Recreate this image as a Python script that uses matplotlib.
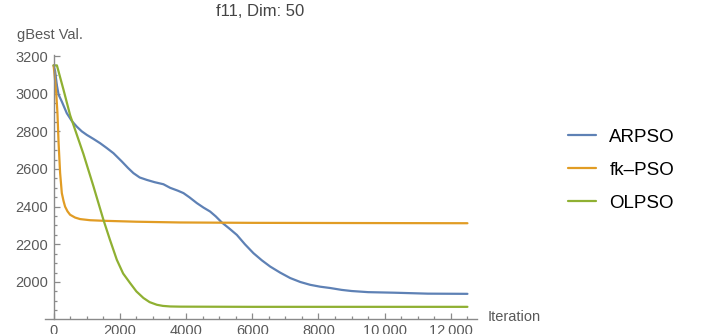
import matplotlib
matplotlib.use("Agg")
import matplotlib.pyplot as plt
from matplotlib.ticker import MultipleLocator, FixedLocator, FixedFormatter

# ---- data ----
arpso_x = [0, 45, 97, 150, 248, 399, 550, 700, 850, 1003, 1200, 1405, 1600, 1807, 2060, 2250,
           2411, 2600, 2816, 3050, 3317, 3520, 3750, 3922, 4100, 4326, 4528, 4728, 4900, 5081,
           5300, 5535, 5780, 6036, 6290, 6541, 6840, 7145, 7450, 7749, 8050, 8353, 8700,
           9000, 9500, 10300, 11300, 12500]
arpso_y = [3150, 3120, 3046, 2995, 2958, 2896, 2855, 2825, 2800, 2781, 2760, 2737, 2712, 2684, 2640, 2605,
           2578, 2555, 2542, 2530, 2519, 2500, 2485, 2472, 2450, 2419, 2395, 2374, 2348, 2316,
           2285, 2250, 2200, 2153, 2115, 2082, 2050, 2021, 2000, 1985, 1975, 1968, 1958,
           1952, 1946, 1943, 1938, 1937]

fk_x = [0, 40, 80, 115, 150, 196, 248, 300, 347, 420, 498, 650, 800, 1100, 1505, 2500,
        3822, 6000, 9000, 12500]
fk_y = [3150, 3080, 3000, 2900, 2740, 2580, 2472, 2430, 2400, 2375, 2357, 2342, 2334, 2328, 2325, 2320,
        2316, 2314, 2313, 2312]

ol_x = [0, 100, 300, 500, 900, 1200, 1505, 1700, 1909, 2100, 2311, 2500, 2713, 2900, 3118,
        3300, 3520, 3822, 6000, 9000, 12500]
ol_y = [3150, 3150, 3020, 2885, 2680, 2510, 2330, 2225, 2118, 2045, 1994, 1950, 1915, 1893, 1879,
        1873, 1870, 1869, 1868, 1868, 1868]

series_names = ["ARPSO", "fk\u2013PSO", "OLPSO"]
series_colors = ["#5E81B5", "#E19C24", "#8FB032"]

x_ticks = [0, 2000, 4000, 6000, 8000, 10000, 12000]
x_tick_labels = ["0", "2000", "4000", "6000", "8000", "10\u2009000", "12\u2009000"]
y_ticks = [2000, 2200, 2400, 2600, 2800, 3000, 3200]
y_tick_labels = ["2000", "2200", "2400", "2600", "2800", "3000", "3200"]

title = "f11, Dim: 50"
y_label = "gBest Val."
x_label = "Iteration"

# ---- figure ----
plt.rcParams['font.family'] = ['Liberation Sans', 'DejaVu Sans']
W, H = 702, 334
fig = plt.figure(figsize=(W / 100, H / 100), dpi=100)
ax = fig.add_axes([45 / W, 1 - 318.7 / H, (476.7 - 45) / W, (318.7 - 55.06) / H])
ax.patch.set_alpha(0)

lines = []
for xs, ys, name, col in zip([arpso_x, fk_x, ol_x], [arpso_y, fk_y, ol_y], series_names, series_colors):
    ln, = ax.plot(xs, ys, color=col, lw=1.6, label=name, solid_joinstyle='round', solid_capstyle='round')
    lines.append(ln)

ax.set_xlim(-260, 12780)
ax.set_ylim(1805, 3205)

axis_col = "#8a8a8a"
label_col = "#595959"
for s in ["top", "right"]:
    ax.spines[s].set_visible(False)
ax.spines["left"].set_position(("data", 0))
ax.spines["left"].set_color(axis_col)
ax.spines["bottom"].set_color(axis_col)
ax.spines["left"].set_linewidth(1.0)
ax.spines["bottom"].set_linewidth(1.0)

ax.xaxis.set_major_locator(FixedLocator(x_ticks))
ax.xaxis.set_major_formatter(FixedFormatter(x_tick_labels))
ax.yaxis.set_major_locator(FixedLocator(y_ticks))
ax.yaxis.set_major_formatter(FixedFormatter(y_tick_labels))
ax.xaxis.set_minor_locator(MultipleLocator(500))
ax.yaxis.set_minor_locator(MultipleLocator(50))

ax.tick_params(which='both', direction='in', color=axis_col, width=0.9)
ax.tick_params(which='major', length=4.5, labelsize=10.5, labelcolor=label_col, pad=4)
ax.tick_params(which='minor', length=2.5)

fig.text(260 / W, 1 - 12 / H, title, ha='center', va='center', fontsize=12, color="#444444")
fig.text(17 / W, 1 - 35 / H, y_label, ha='left', va='center', fontsize=10.5, color=label_col)
fig.text(488 / W, 1 - 317 / H, x_label, ha='left', va='center', fontsize=10.5, color=label_col)

ax.legend(handles=lines, loc='center left', bbox_to_anchor=(568 / W, 1 - 170 / H),
          bbox_transform=fig.transFigure, frameon=False, borderpad=0, borderaxespad=0,
          handlelength=1.5, handletextpad=0.7, labelspacing=0.85, fontsize=13.5)

fig.savefig("out.png", dpi=100)
